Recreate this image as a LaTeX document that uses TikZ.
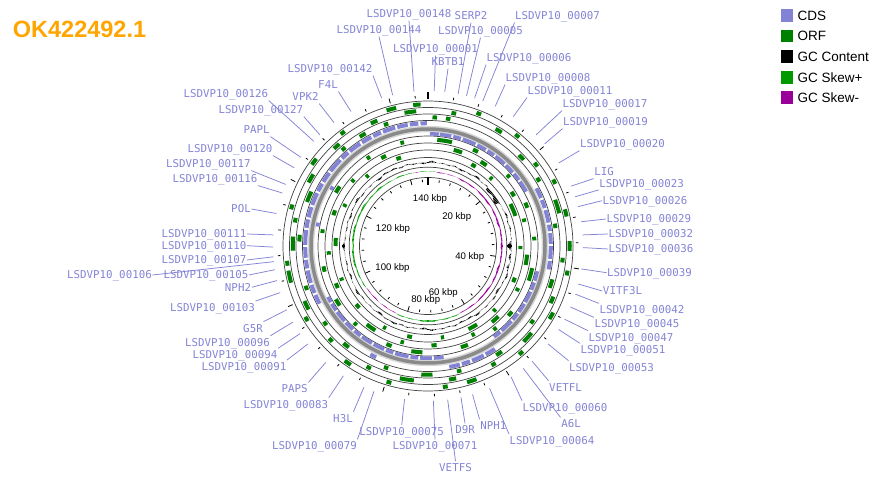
\documentclass[tikz,border=0pt]{standalone}
\usepackage{fontspec}
\setmainfont{Liberation Sans}
\newfontfamily\labelfont{DejaVu Sans Mono}
\usetikzlibrary{positioning}

\definecolor{cdsblue}{RGB}{131,131,214}
\definecolor{orfgreen}{RGB}{0,128,0}
\definecolor{skewplus}{RGB}{0,153,0}
\definecolor{skewminus}{RGB}{153,0,153}
\definecolor{titleorange}{RGB}{255,165,0}

\tikzset{
  ring/.style={draw=black!75, line width=0.7pt},
  cds/.style={draw=cdsblue, line width=4pt},
  orf/.style={draw=orfgreen, line width=4pt},
  tick/.style={draw=black, line width=0.8pt},
  gccontent/.style={draw=black, line width=1.1pt},
  lbl/.style={font=\labelfont\fontsize{10.8pt}{12pt}\selectfont, text=cdsblue,
    inner sep=0.5pt, text height=9.8pt, text depth=2pt},
  lblline/.style={draw=cdsblue, line width=0.75pt},
  kbp/.style={font=\fontsize{9.6pt}{11pt}\selectfont, inner sep=0pt, text height=7pt, text depth=0pt},
  swatch/.style={minimum size=12.6pt, inner sep=0pt},
  legtext/.style={font=\fontsize{13.5pt}{15pt}\selectfont, inner sep=0pt, text height=9.7pt, text depth=0pt},
}

\begin{document}
\begin{tikzpicture}[x=1pt, y=-1pt]
  \useasboundingbox (0,0) rectangle (879,481);

  % map rings, centred on the genome circle
  \begin{scope}[shift={(428,246)}]
    \foreach \r in {145,138.5,132,125.5,110,103,96,88.5,78.8,68.5}
      \draw[ring] (0,0) circle[radius=\r];

    % backbone
    \draw[black!16, line width=6.5pt] (0,0) circle[radius=117];
    \draw[black!46, line width=3.5pt] (0,0) circle[radius=117];

    % ORF, outer three frames
    \foreach \s/\l in {343/4,354/3,20/2,38/2,62/2,75/3,88/4,100/2,118/3,138/2,160/4,172/2,195/2,213/3,238/2,255/5,262/2,285/2,305/3,322/2}
      \draw[orf] ({\s-90}:141.75) arc[start angle={\s-90}, delta angle=\l, radius=141.75];
    \foreach \s/\l in {335/3,350/5,10/2,30/3,52/2,70/6,95/2,112/3,130/5,150/2,168/3,186/6,205/2,225/2,242/4,268/6,280/2,298/4,316/3}
      \draw[orf] ({\s-90}:135.25) arc[start angle={\s-90}, delta angle=\l, radius=135.25];
    \foreach \s/\l in {318/2,328/3,340/2,2/2,8/2,45/3,58/2,80/2,105/4,125/2,145/3,165/2,178/5,198/2,218/3,232/2,250/2,272/3,290/5}
      \draw[orf] ({\s-90}:128.75) arc[start angle={\s-90}, delta angle=\l, radius=128.75];

    % ORF, inner three frames
    \foreach \s/\l in {5/8,25/3,48/2,66/3,85/2,102/7,128/3,140/2,158/4,183/6,200/3,222/2,236/4,256/3,277/2,300/4,325/2,345/2}
      \draw[orf] ({\s-90}:106.5) arc[start angle={\s-90}, delta angle=\l, radius=106.5];
    \foreach \s/\l in {15/5,32/4,57/3,74/2,95/6,115/2,135/5,152/2,175/3,194/2,212/6,245/3,265/2,288/3,310/2,332/3}
      \draw[orf] ({\s-90}:99.5) arc[start angle={\s-90}, delta angle=\l, radius=99.5];
    \foreach \s/\l in {28/3,42/2,63/8,90/2,110/3,133/2,148/6,170/2,190/3,207/2,228/3,248/2,270/5,295/2,318/2,340/3}
      \draw[orf] ({\s-90}:92.5) arc[start angle={\s-90}, delta angle=\l, radius=92.5];

    % CDS, forward and reverse
    \foreach \s/\l in {242/4.5,247.5/4,252.5/6,259.5/4,264.5/5,270.5/7,278.5/4,283.5/5,289.5/6,296.5/4,301.5/5,307.5/7,315.5/4,320.5/6,327.5/5,333.5/4,338.5/6,345.5/5,351.5/4,356.5/3,62/5,68/4,73/6,80/3,84/5,90/6,97/4,147/5,153/6,160/4,165/5,205/3}
      \draw[cds] ({\s-90}:122.8) arc[start angle={\s-90}, delta angle=\l, radius=122.8];
    \foreach \s/\l in {1/4.5,6/6,13/4,18/7,26/5,32/4,37/6,44/5,50/4,55/6,103/5,109/4,114/6,121/5,127/4,132/7,140/4,172/5,178/6,185/4,190/7,198/4,203/6,210/6,217/4,222/5,228/6,235/4,240/3,280/2,300/2}
      \draw[cds, line width=3.6pt] ({\s-90}:112.2) arc[start angle={\s-90}, delta angle=\l, radius=112.2];

    % GC content
    \foreach \a in {0,1,...,359} {
      \pgfmathsetmacro\v{1.3*sin(17*\a+10)*cos(6*\a)+0.8*sin(43*\a)-2.6*(abs(\a-52)<7)-2*(abs(\a-96)<10)*abs(sin(25*\a))}
      \draw[gccontent] ({\a-90}:83.5) -- ({\a-90}:{83.5+\v});
    }

    % GC skew
    \foreach \a in {0,1,...,359} {
      \pgfmathsetmacro\s{1.3*(-sin(\a)+0.9*(abs(\a-172)<25)*cos(3.6*(\a-172))-1.1*(abs(\a-225)<25)*cos(3.6*(\a-225)))+0.6*sin(29*\a)*sin(11*\a)}
      \ifdim\s pt>0pt \def\skewcol{skewplus}\else\def\skewcol{skewminus}\fi
      \draw[draw=\skewcol, line width=1.2pt] ({\a-90}:74.5) -- ({\a-90}:{74.5+\s});
    }

    % rulers, minor ticks every 4 kbp, major every 20 kbp
    \foreach \k in {4,8,...,144} {
      \pgfmathsetmacro\t{\k/146*360-90}
      \pgfmathtruncatemacro\maj{mod(\k,20)==0}
      \ifnum\maj=1
        \draw[tick] (\t:68.5) -- (\t:63);
        \draw[tick] (\t:147.5) -- (\t:152.5);
      \else
        \draw[tick] (\t:66.5) -- (\t:64);
        \draw[tick] (\t:148) -- (\t:150.5);
      \fi
    }
    \draw[tick, line width=1.8pt] (-90:68.5) -- (-90:61);
    \draw[tick, line width=1.8pt] (-90:147) -- (-90:153.5);

    % label line ends
    \foreach \n/\f in {148/354.8,serp2/11.2,007/20.7,144/346.8,005/14.4,001/2.3,kbtb1/6.2,006/17.5,142/342.6,008/25.7,f4l/330.2,011/33.4,vpk2/322.7,017/44.2,019/48.8,020/57.6,lig/67.3,023/71.5,026/75.3,029/81,032/85.9,036/90.6,039/98.5,vitf3l/104.2,042/108.1,045/113.2,047/118.2,051/122.6,053/129.2,vetfl/137.9,060/147.6,a6l/142.1,064/156.6,nph1/163.3,d9r/167.7,075/188.7,071/178,vetfs/172.7,079/200.4,h3l/204.4,083/213.1,paps/221.3,091/230.8,094/235.6,096/240.6,g5r/245.7,103/252.5,nph2/257.1,105/261.2,106/264.2,107/266,110/269.6,111/274.1,pol/282.1,116/290,117/293.4,120/300.3,papl/304.9,127/315.8,126/312.5}
      \coordinate (a\n) at ({\f-90}:155);
  \end{scope}

  % scale labels
  \begin{scope}[every node/.style={kbp}]
    \node (k140) at (430,197.7) {140 kbp};
    \node (k20)  at (456.7,215.7) {20 kbp};
    \node (k120) at (393,228.3) {120 kbp};
    \node (k40)  at (469.7,256) {40 kbp};
    \node (k100) at (392.5,266.7) {100 kbp};
    \node (k60)  at (443.3,292) {60 kbp};
    \node (k80)  at (425.7,298.7) {80 kbp};
  \end{scope}

  % feature labels
  \begin{scope}[every node/.style={lbl}]
    \node (l148)   at (409,14)       {LSDVP10\_00148};
    \node (lserp2) at (471,16)       {SERP2};
    \node (l007)   at (557.5,16)     {LSDVP10\_00007};
    \node (l144)   at (379,30)       {LSDVP10\_00144};
    \node (l005)   at (480.5,31)     {LSDVP10\_00005};
    \node (l001)   at (435.5,49)     {LSDVP10\_00001};
    \node (lkbtb1) at (448,62)       {KBTB1};
    \node (l006)   at (529,58)       {LSDVP10\_00006};
    \node (l142)   at (330,69)       {LSDVP10\_00142};
    \node (l008)   at (548,78)       {LSDVP10\_00008};
    \node (lf4l)   at (328,85)       {F4L};
    \node (l011)   at (570,91)       {LSDVP10\_00011};
    \node (lvpk2)  at (305.5,97)     {VPK2};
    \node (l017)   at (605,104)      {LSDVP10\_00017};
    \node (l019)   at (605.5,122)    {LSDVP10\_00019};
    \node (l020)   at (622.5,144)    {LSDVP10\_00020};
    \node (llig)   at (604,172)      {LIG};
    \node (l023)   at (641.7,183.3)  {LSDVP10\_00023};
    \node (l026)   at (645,200.7)    {LSDVP10\_00026};
    \node (l029)   at (648.8,219)    {LSDVP10\_00029};
    \node (l032)   at (650.8,234)    {LSDVP10\_00032};
    \node (l036)   at (651,249)      {LSDVP10\_00036};
    \node (l039)   at (649.5,272.7)  {LSDVP10\_00039};
    \node (lvitf3l) at (622.5,291)   {VITF3L};
    \node (l042)   at (642,310)      {LSDVP10\_00042};
    \node (l045)   at (637,324)      {LSDVP10\_00045};
    \node (l047)   at (631,337.3)    {LSDVP10\_00047};
    \node (l051)   at (623,350)      {LSDVP10\_00051};
    \node (l053)   at (611.5,367.3)  {LSDVP10\_00053};
    \node (lvetfl) at (565.5,387.3)  {VETFL};
    \node (l060)   at (565,407.3)    {LSDVP10\_00060};
    \node (la6l)   at (571,424)      {A6L};
    \node (l064)   at (552,440.7)    {LSDVP10\_00064};
    \node (lnph1)  at (493.3,426)    {NPH1};
    \node (ld9r)   at (465,430)      {D9R};
    \node (l075)   at (401.7,431.7)  {LSDVP10\_00075};
    \node (l071)   at (435,446)      {LSDVP10\_00071};
    \node (lvetfs) at (455.5,467.7)  {VETFS};
    \node (l079)   at (314.5,446)    {LSDVP10\_00079};
    \node (lh3l)   at (343,418.3)    {H3L};
    \node (l083)   at (285.8,404.3)  {LSDVP10\_00083};
    \node (lpaps)  at (294.7,389)    {PAPS};
    \node (l091)   at (244,366.7)    {LSDVP10\_00091};
    \node (l094)   at (235,355)      {LSDVP10\_00094};
    \node (l096)   at (227.5,342.3)  {LSDVP10\_00096};
    \node (lg5r)   at (253,328.3)    {G5R};
    \node (l103)   at (212.5,307.7)  {LSDVP10\_00103};
    \node (lnph2)  at (238,287.3)    {NPH2};
    \node (l105)   at (206,275)      {LSDVP10\_00105};
    \node (l106)   at (109.5,275)    {LSDVP10\_00106};
    \node (l107)   at (204,260)      {LSDVP10\_00107};
    \node (l110)   at (204,245.7)    {LSDVP10\_00110};
    \node (l111)   at (204,234)      {LSDVP10\_00111};
    \node (lpol)   at (241,209)      {POL};
    \node (l116)   at (215,179)      {LSDVP10\_00116};
    \node (l117)   at (208.3,164)    {LSDVP10\_00117};
    \node (l120)   at (230,149)      {LSDVP10\_00120};
    \node (lpapl)  at (256.7,130)    {PAPL};
    \node (l127)   at (260.8,110)    {LSDVP10\_00127};
    \node (l126)   at (225.8,94)     {LSDVP10\_00126};
  \end{scope}

  \begin{scope}[every edge/.style={lblline}]
    \path (l148.south)         edge (a148);
    \path (lserp2.south)       edge (aserp2);
    \path (l007.south west)    edge (a007);
    \path (l144.south)         edge (a144);
    \path (l005.south)         edge (a005);
    \path (l001.south)         edge (a001);
    \path (lkbtb1.south)       edge (akbtb1);
    \path (l006.south west)    edge (a006);
    \path (l142.south east)    edge (a142);
    \path (l008.south west)    edge (a008);
    \path (lf4l.south east)    edge (af4l);
    \path (l011.south west)    edge (a011);
    \path (lvpk2.south east)   edge (avpk2);
    \path (l017.south west)    edge (a017);
    \path (l019.south west)    edge (a019);
    \path (l020.south west)    edge (a020);
    \path (llig.south west)    edge (alig);
    \path (l023.south west)    edge (a023);
    \path (l026.west)          edge (a026);
    \path (l029.west)          edge (a029);
    \path (l032.west)          edge (a032);
    \path (l036.west)          edge (a036);
    \path (l039.west)          edge (a039);
    \path (lvitf3l.west)       edge (avitf3l);
    \path (l042.north west)    edge (a042);
    \path (l045.north west)    edge (a045);
    \path (l047.north west)    edge (a047);
    \path (l051.north west)    edge (a051);
    \path (l053.north west)    edge (a053);
    \path (lvetfl.north west)  edge (avetfl);
    \path (l060.north west)    edge (a060);
    \path (la6l.north west)    edge (aa6l);
    \path (l064.north west)    edge (a064);
    \path (lnph1.north west)   edge (anph1);
    \path (ld9r.north)         edge (ad9r);
    \path (l075.north)         edge (a075);
    \path (l071.north)         edge (a071);
    \path (lvetfs.north)       edge (avetfs);
    \path (l079.north east)    edge (a079);
    \path (lh3l.north east)    edge (ah3l);
    \path (l083.north east)    edge (a083);
    \path (lpaps.north east)   edge (apaps);
    \path (l091.north east)    edge (a091);
    \path (l094.north east)    edge (a094);
    \path (l096.north east)    edge (a096);
    \path (lg5r.north east)    edge (ag5r);
    \path (l103.north east)    edge (a103);
    \path (lnph2.east)         edge (anph2);
    \path (l105.east)          edge (a105);
    \path (l106.east)          edge (a106);
    \path (l107.east)          edge (a107);
    \path (l110.east)          edge (a110);
    \path (l111.east)          edge (a111);
    \path (lpol.east)          edge (apol);
    \path (l116.south east)    edge (a116);
    \path (l117.south east)    edge (a117);
    \path (l120.south east)    edge (a120);
    \path (lpapl.south east)   edge (apapl);
    \path (l127.south east)    edge (a127);
    \path (l126.south east)    edge (a126);
  \end{scope}

  % title and legend
  \node[font=\fontsize{23.5pt}{28pt}\selectfont\bfseries, text=titleorange, inner sep=0pt, anchor=base west] (title) at (12.7,38) {OK422492.1};

  \node[swatch, fill=cdsblue]   (kcds)   at (787,15.3) {};
  \node[swatch, fill=orfgreen]  (korf)   at (787,36)   {};
  \node[swatch, fill=black]     (kgc)    at (787,56.7) {};
  \node[swatch, fill=skewplus]  (kplus)  at (787,77.3) {};
  \node[swatch, fill=skewminus] (kminus) at (787,97.3) {};
  \node[legtext, right=4pt of kcds]   (tcds)   {CDS};
  \node[legtext, right=4pt of korf]   (torf)   {ORF};
  \node[legtext, right=4pt of kgc]    (tgc)    {GC Content};
  \node[legtext, right=4pt of kplus]  (tplus)  {GC Skew+};
  \node[legtext, right=4pt of kminus] (tminus) {GC Skew-};

\end{tikzpicture}
\end{document}
